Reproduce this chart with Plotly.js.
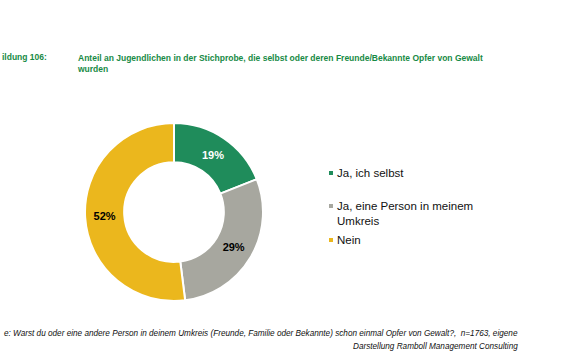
<!DOCTYPE html>
<html><head><meta charset="utf-8">
<script src="https://cdn.plot.ly/plotly-3.0.1.min.js"></script>
<style>html,body{margin:0;padding:0;background:#fff;}</style>
</head><body>
<div id="chart" style="width:580px;height:357px;"></div>
<script>
const categories = ["Ja, ich selbst", "Ja, eine Person in meinem<br>Umkreis", "Nein"];
const values = [19, 29, 52];
const colors = ["#1f8c5b", "#a7a79f", "#ebb71d"];
const textColors = ["#ffffff", "#000000", "#000000"];
const legendY = [173, 213, 240];

const W = 580, H = 357;
const trace = {
  type: "pie",
  labels: categories,
  values: values,
  sort: false,
  direction: "clockwise",
  rotation: 0,
  hole: 0.56,
  marker: {colors: colors, line: {color: "#ffffff", width: 2}},
  texttemplate: "%{value}%",
  textposition: "inside",
  insidetextorientation: "horizontal",
  textfont: {family: "Arial, Liberation Sans, sans-serif", size: 11, color: textColors, weight: "bold"},
  domain: {x: [85/W, 263/W], y: [1 - 301/H, 1 - 123/H]},
  showlegend: false,
  hoverinfo: "none"
};

const annotations = [
  {text: "<b>ildung 106:</b>", x: 0, y: 57, xanchor: "left", yanchor: "middle"},
  {text: "<b>Anteil an Jugendlichen in der Stichprobe, die selbst oder deren Freunde/Bekannte Opfer von Gewalt<br>wurden</b>", x: 75, y: 63, xanchor: "left", yanchor: "middle", align: "left"}
].map(a => Object.assign({xref: "paper", yref: "paper", showarrow: false,
  font: {family: "Arial, Liberation Sans, sans-serif", size: 8.5, color: "#178a45"}}, a));

const shapes = [];
categories.forEach((c, i) => {
  annotations.push({text: c, x: 335, y: legendY[i], xanchor: "left", yanchor: "middle", align: "left",
    xref: "paper", yref: "paper", showarrow: false,
    font: {family: "Arial, Liberation Sans, sans-serif", size: 11.5, color: "#111"}});
  const my = i === 1 ? 206 : legendY[i];
  shapes.push({type: "rect", xref: "paper", yref: "paper", x0: 329, x1: 333, y0: my - 2, y1: my + 2,
    fillcolor: colors[i], line: {width: 0}});
});

annotations.push({text: "<i>e: Warst du oder eine andere Person in deinem Umkreis (Freunde, Familie oder Bekannte) schon einmal Opfer von Gewalt?,  n=1763, eigene</i>",
  x: 520, y: 333, xanchor: "right", yanchor: "middle", xref: "paper", yref: "paper", showarrow: false,
  font: {family: "Arial, Liberation Sans, sans-serif", size: 8.2, color: "#111"}});
annotations.push({text: "<i>Darstellung Ramboll Management Consulting</i>",
  x: 520, y: 346, xanchor: "right", yanchor: "middle", xref: "paper", yref: "paper", showarrow: false,
  font: {family: "Arial, Liberation Sans, sans-serif", size: 8.2, color: "#111"}});

// convert pixel coords to paper coords
annotations.forEach(a => { a.x = a.x / W; a.y = 1 - a.y / H; });
shapes.forEach(s => { s.x0 /= W; s.x1 /= W; const y0 = 1 - s.y1 / H, y1 = 1 - s.y0 / H; s.y0 = y0; s.y1 = y1; });

const layout = {
  width: W, height: H,
  margin: {l: 0, r: 0, t: 0, b: 0},
  paper_bgcolor: "#ffffff",
  plot_bgcolor: "#ffffff",
  annotations: annotations,
  shapes: shapes,
  showlegend: false
};
Plotly.newPlot("chart", [trace], layout, {displayModeBar: false, staticPlot: true});
</script>
</body></html>
